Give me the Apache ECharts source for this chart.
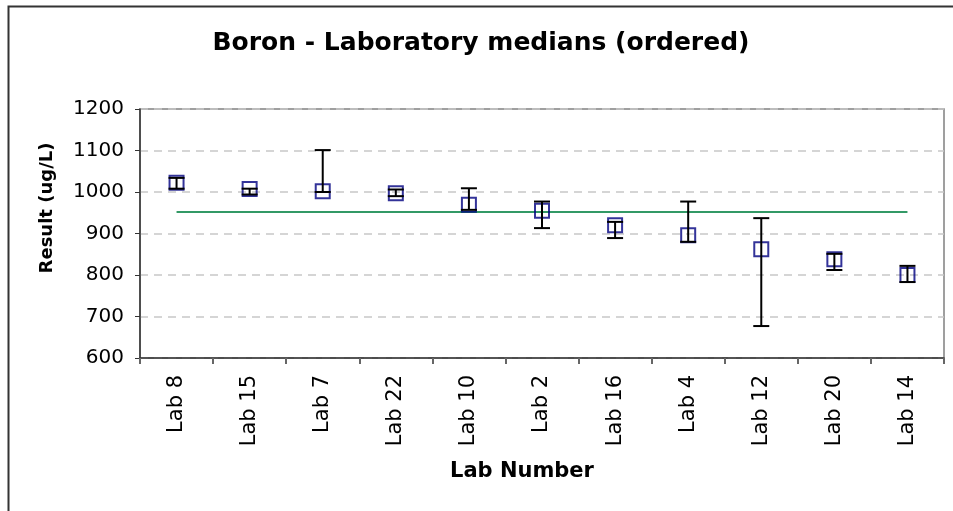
<!DOCTYPE html>
<html>
<head>
<meta charset="utf-8">
<script src="https://cdn.jsdelivr.net/npm/echarts@6/dist/echarts.min.js"></script>
<style>
  html, body { margin: 0; padding: 0; background: #fff; }
  #chartBox { width: 953px; height: 511px; }
</style>
</head>
<body>
<div id="chartBox"></div>
<script>
// lab order as plotted (sorted by median)
const labs = ['Lab 8', 'Lab 15', 'Lab 7', 'Lab 22', 'Lab 10', 'Lab 2', 'Lab 16', 'Lab 4', 'Lab 12', 'Lab 20', 'Lab 14'];
const medians = [1022, 1007, 1002, 997, 969, 955, 920, 896, 862, 838, 800];
const lows = [1008, 994, 1000, 990, 957, 913, 889, 880, 677, 812, 783];
const highs = [1034, 1008, 1101, 1006, 1009, 977, 928, 977, 937, 851, 822];
const assignedValue = 952;
const yTicks = [600, 700, 800, 900, 1000, 1100, 1200];

const chart = echarts.init(document.getElementById('chartBox'));

const errData = labs.map((l, i) => [i, lows[i], highs[i]]);

chart.setOption({
  animation: false,
  textStyle: { fontFamily: 'DejaVu Sans' },
  title: {
    text: 'Boron - Laboratory medians (ordered)',
    left: 476, top: 26, textAlign: 'center',
    textStyle: { fontSize: 25, fontWeight: 'bold', color: '#000', fontFamily: 'DejaVu Sans' }
  },
  graphic: [
    { type: 'rect', left: 6, top: 4, shape: { width: 1000, height: 1000 },
      style: { fill: 'none', stroke: '#333', lineWidth: 2 }, z: 100 },
    { type: 'text', x: 47, y: 208, rotation: Math.PI / 2,
      style: { text: 'Result (ug/L)', fill: '#000', font: 'bold 18px "DejaVu Sans"', align: 'center', verticalAlign: 'middle' } },
    { type: 'text', x: 522, y: 472,
      style: { text: 'Lab Number', fill: '#000', font: 'bold 21px "DejaVu Sans"', align: 'center', verticalAlign: 'middle' } }
  ],
  grid: {
    left: 140, right: 9, top: 109, bottom: 153,
    show: true, borderColor: '#808080', borderWidth: 1.5, backgroundColor: '#fff'
  },
  xAxis: {
    type: 'category',
    data: labs,
    boundaryGap: true,
    axisLine: { lineStyle: { color: '#333', width: 1.5 } },
    axisTick: { show: true, interval: 0, length: 6, lineStyle: { color: '#666', width: 2 } },
    axisLabel: { interval: 0, rotate: 90, color: '#000', fontSize: 21, margin: 17 }
  },
  yAxis: {
    type: 'value',
    min: yTicks[0], max: yTicks[yTicks.length - 1], interval: 100,
    axisLine: { show: true, lineStyle: { color: '#333', width: 1.5 } },
    axisTick: { show: true, length: 5, lineStyle: { color: '#333' } },
    axisLabel: { color: '#000', fontSize: 20, margin: 16, formatter: v => String(v) },
    splitLine: { lineStyle: { color: '#c8c8c8', type: [8, 6], width: 1.5 } }
  },
  series: [
    {
      name: 'assigned',
      type: 'line',
      data: labs.map(() => assignedValue),
      symbol: 'none',
      lineStyle: { color: '#339966', width: 2 },
      z: 2
    },
    {
      name: 'median',
      type: 'scatter',
      data: medians,
      symbol: 'rect',
      symbolSize: 14,
      itemStyle: { color: 'rgba(255,255,255,0)', borderColor: '#000080', borderWidth: 2 },
      z: 3
    },
    {
      name: 'range',
      type: 'custom',
      data: errData,
      z: 4,
      renderItem: function (params, api) {
        const x = api.value(0);
        const lo = api.coord([x, api.value(1)]);
        const hi = api.coord([x, api.value(2)]);
        const hw = 8;
        const st = { stroke: '#000', lineWidth: 2 };
        return {
          type: 'group',
          children: [
            { type: 'line', shape: { x1: lo[0], y1: lo[1], x2: hi[0], y2: hi[1] }, style: st },
            { type: 'line', shape: { x1: lo[0] - hw, y1: lo[1], x2: lo[0] + hw, y2: lo[1] }, style: st },
            { type: 'line', shape: { x1: hi[0] - hw, y1: hi[1], x2: hi[0] + hw, y2: hi[1] }, style: st }
          ]
        };
      }
    }
  ]
});
</script>
</body>
</html>
